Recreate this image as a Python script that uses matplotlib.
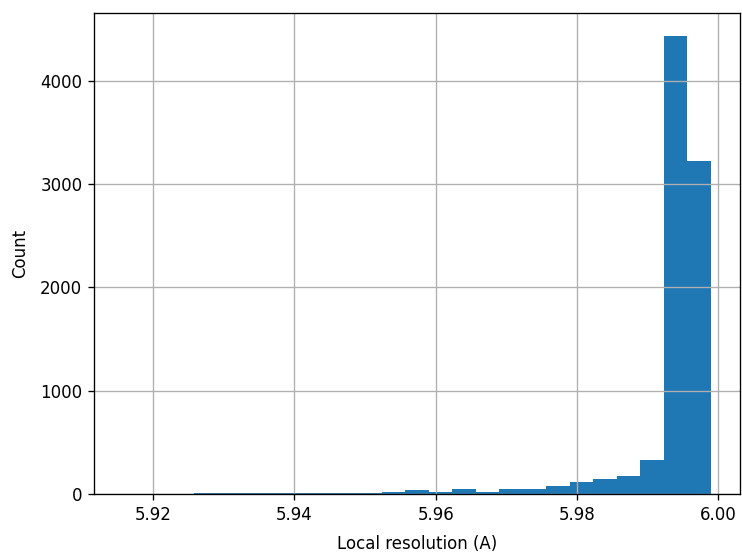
import matplotlib
matplotlib.use("Agg")
import matplotlib.pyplot as plt
import numpy as np

x_min = 5.9158
x_max = 5.9989
counts = [1, 1, 2, 6, 7, 8, 8, 9, 10, 10, 12, 20, 35, 20, 48, 22,
          48, 48, 74, 112, 148, 177, 325, 4435, 3220]

edges = np.linspace(x_min, x_max, len(counts) + 1)
centers = (edges[:-1] + edges[1:]) / 2

# La imagen original está guardada a 120 dpi (742x552 px)
fig, ax = plt.subplots(figsize=(742 / 120, 552 / 120), dpi=120)
fig.subplots_adjust(left=0.1267, right=0.9973, top=0.9764, bottom=0.105)

ax.hist(centers, bins=edges, weights=counts, color="#1f77b4")
ax.grid(True)
ax.set_xlabel("Local resolution (A)", labelpad=6.5)
ax.set_ylabel("Count", labelpad=6.5)

fig.savefig("out.png", dpi=120)
